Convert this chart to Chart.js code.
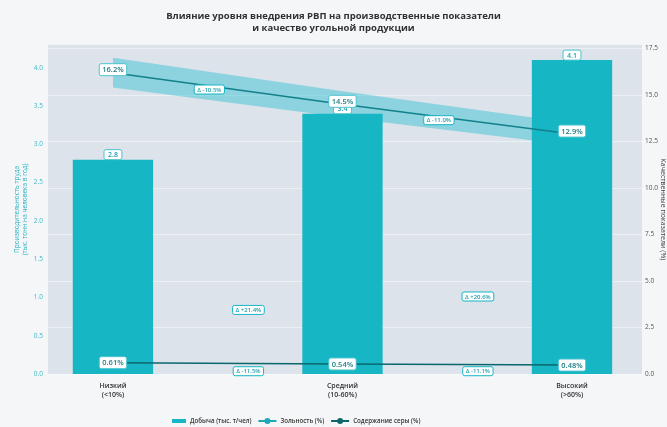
<!DOCTYPE html>
<html lang="ru">
<head>
<meta charset="utf-8">
<title>Влияние уровня внедрения РВП</title>
<script src="https://cdn.jsdelivr.net/npm/chart.js@4.4.1/dist/chart.umd.min.js"></script>
<style>
  html, body { margin: 0; padding: 0; background: #f5f6f7; }
  #wrap { width: 667px; height: 427px; position: relative; }
</style>
</head>
<body>
<div id="wrap"><canvas id="rvp-chart"></canvas></div>
<script>
// уровни внедрения РВП (подписи оси X)
const levels = [['Низкий', '(<10%)'], ['Средний', '(10-60%)'], ['Высокий', '(>60%)']];
const levelPos = [0, 1, 2];

// производительность, тыс. т/чел в год
const output = [2.8, 3.4, 4.1];
// зольность, % и коридор разброса
const ash = [16.2, 14.5, 12.9];
const ashLow = [15.4, 13.8, 12.3];
const ashHigh = [17.0, 15.2, 13.5];
// содержание серы, %
const sulfur = [0.61, 0.54, 0.48];

const leftTicks = [0, 0.5, 1.0, 1.5, 2.0, 2.5, 3.0, 3.5, 4.0];
const rightTicks = [0, 2.5, 5.0, 7.5, 10.0, 12.5, 15.0, 17.5];

const TEAL = '#17b6c4';
const ASH_COLOR = '#11808a';
const SULFUR_COLOR = '#0b676c';
const FONT = "'Open Sans', 'DejaVu Sans', sans-serif";

const xy = (vals) => vals.map((v, i) => ({ x: levelPos[i], y: v }));
const pct = (a, b) => {
  const d = (b / a - 1) * 100;
  return 'Δ ' + (d > 0 ? '+' : '') + d.toFixed(1) + '%';
};

function drawTag(ctx, text, x, y, o) {
  ctx.save();
  ctx.font = o.font;
  const w = ctx.measureText(text).width + o.padX * 2;
  const h = o.h;
  ctx.beginPath();
  ctx.roundRect(x - w / 2, y - h / 2, w, h, 2);
  ctx.fillStyle = o.bg || '#ffffff';
  ctx.fill();
  ctx.lineWidth = 1;
  ctx.strokeStyle = o.border;
  ctx.stroke();
  ctx.fillStyle = o.color;
  ctx.textAlign = 'center';
  ctx.textBaseline = 'middle';
  ctx.fillText(text, x, y + 0.5);
  ctx.restore();
}

// фон области построения
const plotBackground = {
  id: 'plotBackground',
  beforeDraw(chart) {
    const { ctx, chartArea: a } = chart;
    ctx.save();
    ctx.fillStyle = '#dce3eb';
    ctx.fillRect(a.left, a.top, a.right - a.left, a.bottom - a.top);
    ctx.restore();
  }
};

// подписи значений и изменений между уровнями
const valueTags = {
  id: 'valueTags',
  afterDraw(chart) {
    const { ctx } = chart;
    const x = chart.scales.x;
    const yL = chart.scales.y;
    const yR = chart.scales.y2;
    const small = { font: `600 6px ${FONT}`, padX: 3, h: 9, border: TEAL, color: '#1a9fb0' };
    const big = { font: `600 7.5px ${FONT}`, padX: 3, h: 12, border: '#4cc3cf', color: '#1b7d86' };

    output.forEach((v, i) => {
      drawTag(ctx, v.toFixed(1), x.getPixelForValue(levelPos[i]), yL.getPixelForValue(v) - 5,
        { font: `600 7px ${FONT}`, padX: 4, h: 10, border: '#4cc3cf', color: '#1a9fb0' });
    });
    ash.forEach((v, i) => {
      drawTag(ctx, v.toFixed(1) + '%', x.getPixelForValue(levelPos[i]), yR.getPixelForValue(v) - 3, big);
    });
    sulfur.forEach((v, i) => {
      drawTag(ctx, v.toFixed(2) + '%', x.getPixelForValue(levelPos[i]), yR.getPixelForValue(v), big);
    });

    for (let i = 0; i < levelPos.length - 1; i++) {
      const midL = (levelPos[i] + levelPos[i + 1]) / 2;
      // зольность — над линией
      drawTag(ctx, pct(ash[i], ash[i + 1]), x.getPixelForValue(midL - 0.08),
        yR.getPixelForValue((ash[i] + ash[i + 1]) / 2) + 1, small);
      // добыча — в нижней части между столбцами
      drawTag(ctx, pct(output[i], output[i + 1]), x.getPixelForValue(midL + 0.09),
        yL.getPixelForValue((output[i] + output[i + 1]) / 2 * 0.27), small);
      // сера — у нулевой линии
      drawTag(ctx, pct(sulfur[i], sulfur[i + 1]), x.getPixelForValue(midL + 0.09),
        yR.getPixelForValue(0.15), small);
    }
  }
};

// легенда под графиком
const bottomLegend = {
  id: 'bottomLegend',
  afterDraw(chart) {
    const { ctx } = chart;
    const items = chart.data.datasets.filter(ds => !ds.label.startsWith('ash-'));
    const y = 421;
    let x = 172;
    ctx.save();
    ctx.font = `600 6.2px ${FONT}`;
    ctx.textBaseline = 'middle';
    items.forEach((ds) => {
      const color = ds.legendColor || ds.borderColor || ds.backgroundColor;
      if (ds.type === 'line') {
        ctx.strokeStyle = color;
        ctx.lineWidth = 2;
        ctx.beginPath();
        ctx.moveTo(x, y);
        ctx.lineTo(x + 18, y);
        ctx.stroke();
        ctx.fillStyle = color;
        ctx.beginPath();
        ctx.arc(x + 9, y, 3, 0, Math.PI * 2);
        ctx.fill();
        x += 22;
      } else {
        ctx.fillStyle = color;
        ctx.fillRect(x, y - 2, 14, 4);
        x += 18;
      }
      ctx.fillStyle = '#333';
      ctx.fillText(ds.label, x, y + 0.5);
      x += ctx.measureText(ds.label).width + 7;
    });
    ctx.restore();
  }
};

new Chart(document.getElementById('rvp-chart'), {
  type: 'bar',
  data: {
    datasets: [
      {
        type: 'line',
        label: 'ash-low',
        data: xy(ashLow),
        yAxisID: 'y2',
        borderWidth: 0,
        pointRadius: 0,
        fill: false,
        order: 4
      },
      {
        type: 'line',
        label: 'ash-high',
        data: xy(ashHigh),
        yAxisID: 'y2',
        borderWidth: 0,
        pointRadius: 0,
        fill: '-1',
        backgroundColor: 'rgba(60, 196, 212, 0.5)',
        order: 3
      },
      {
        label: 'Добыча (тыс. т/чел)',
        data: xy(output),
        yAxisID: 'y',
        backgroundColor: TEAL,
        borderWidth: 0,
        categoryPercentage: 1,
        barPercentage: 0.35,
        order: 2
      },
      {
        type: 'line',
        label: 'Зольность (%)',
        data: xy(ash),
        yAxisID: 'y2',
        borderColor: ASH_COLOR,
        legendColor: '#1fa7b5',
        borderWidth: 1.5,
        pointRadius: 0,
        fill: false,
        order: 1
      },
      {
        type: 'line',
        label: 'Содержание серы (%)',
        data: xy(sulfur),
        yAxisID: 'y2',
        borderColor: SULFUR_COLOR,
        borderWidth: 1.5,
        pointRadius: 0,
        fill: false,
        order: 0
      }
    ]
  },
  options: {
    responsive: true,
    maintainAspectRatio: false,
    animation: false,
    layout: { padding: { top: 0, left: 0, right: 0, bottom: 13 } },
    plugins: {
      title: {
        display: true,
        text: ['Влияние уровня внедрения РВП на производственные показатели', 'и качество угольной продукции'],
        color: '#2e3236',
        font: { family: FONT, size: 9.5, weight: 'bold', lineHeight: 1.2 },
        padding: { top: 11, bottom: 11 }
      },
      legend: { display: false },
      tooltip: { enabled: false }
    },
    scales: {
      x: {
        type: 'linear',
        offset: false,
        min: -0.283,
        max: 2.305,
        afterBuildTicks: (axis) => { axis.ticks = levelPos.map(v => ({ value: v })); },
        afterFit: (axis) => { axis.height = 40; },
        grid: { display: false },
        border: { display: false },
        ticks: {
          padding: 0,
          color: '#333',
          font: { family: FONT, size: 7, weight: '600', lineHeight: 1.25 },
          callback: (v) => levels[levelPos.indexOf(v)] || ''
        }
      },
      y: {
        position: 'left',
        min: 0,
        max: 4.3,
        afterBuildTicks: (axis) => { axis.ticks = leftTicks.map(v => ({ value: v })); },
        afterFit: (axis) => { axis.width = 48; },
        grid: { display: false, drawTicks: false },
        border: { display: false },
        title: {
          display: true,
          text: ['Производительность труда', '(тыс. тонн на человека в год)'],
          color: '#2cb3c4',
          font: { family: FONT, size: 6.5, lineHeight: 1.1 },
          padding: { top: 14, bottom: 0 }
        },
        ticks: {
          padding: 5,
          color: '#3fb9c8',
          font: { family: FONT, size: 6.5 },
          callback: (v) => v.toFixed(1)
        }
      },
      y2: {
        position: 'right',
        min: 0,
        max: 17.7,
        z: 1,
        afterBuildTicks: (axis) => { axis.ticks = rightTicks.map(v => ({ value: v })); },
        afterFit: (axis) => { axis.width = 25; },
        grid: { color: 'rgba(255, 255, 255, 0.45)', lineWidth: 1, drawTicks: false },
        border: { display: false },
        title: {
          display: true,
          text: 'Качественные показатели (%)',
          color: '#444',
          font: { family: FONT, size: 7 },
          padding: 0
        },
        ticks: {
          padding: 3,
          color: '#555',
          font: { family: FONT, size: 6.5 },
          callback: (v) => v.toFixed(1)
        }
      }
    }
  },
  plugins: [plotBackground, valueTags, bottomLegend]
});
</script>
</body>
</html>
